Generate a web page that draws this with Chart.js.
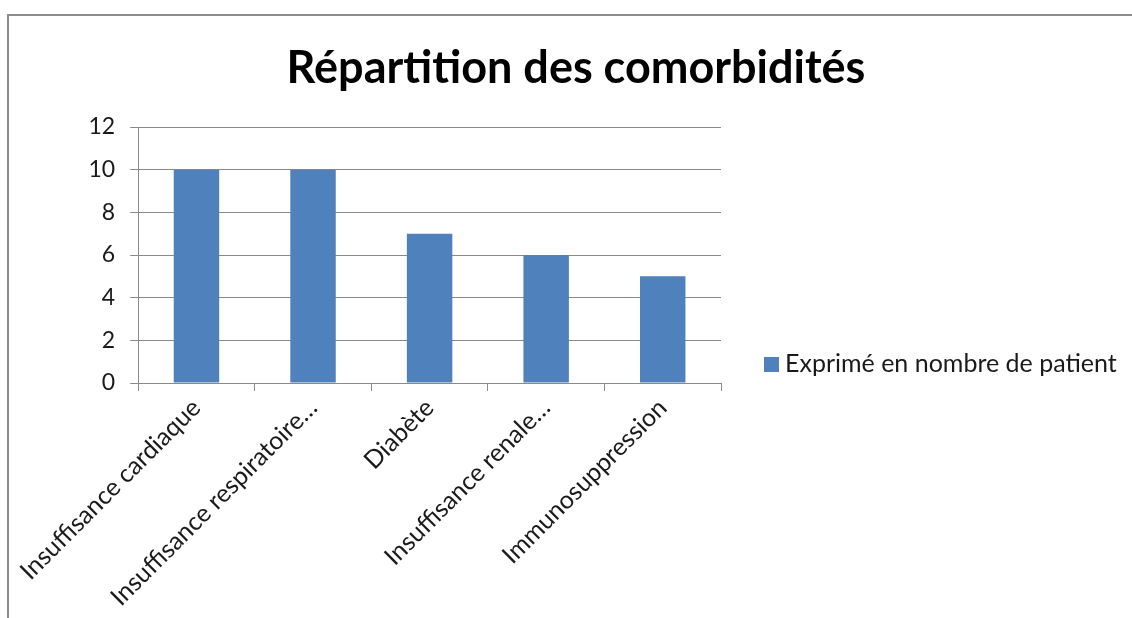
<!DOCTYPE html>
<html lang="fr">
<head>
<meta charset="utf-8">
<title>Répartition des comorbidités</title>
<script src="https://cdn.jsdelivr.net/npm/chart.js@4/dist/chart.umd.min.js"></script>
<style>
  html, body { margin:0; padding:0; background:#fff; overflow:hidden; }
  body { width:1132px; height:618px; position:relative; font-family:Lato, sans-serif; }
  /* cadre gris façon Excel */
  #frame { position:absolute; left:7px; top:14px; width:1200px; height:700px;
           border:2px solid #8c8c8c; box-sizing:border-box; }
  #chart { position:absolute; left:10px; top:0; }
  #legend { position:absolute; left:764px; top:347px; font:25px Lato, sans-serif; color:#1a1a1a;
            white-space:nowrap; }
  #legend span { display:inline-block; width:15px; height:15px; background:#4F81BD;
                 margin-right:6px; vertical-align:0px; }
</style>
</head>
<body>
<div id="frame"></div>
<canvas id="chart" width="1132" height="618"></canvas>
<div id="legend"><span></span>Exprimé en nombre de patient</div>
<script>
/* ---- données ---- */
const categories = ['Insuffisance cardiaque', 'Insuffisance respiratoire…', 'Diabète',
                    'Insuffisance renale…', 'Immunosuppression'];
const patients   = [10, 10, 7, 6, 5];
const yTicks     = [0, 2, 4, 6, 8, 10, 12];
const seriesName = 'Exprimé en nombre de patient';
const titre      = 'Répartition des comorbidités';

const grey = '#8a8a8a';

new Chart(document.getElementById('chart'), {
  type: 'bar',
  data: {
    labels: categories,
    datasets: [{ label: seriesName, data: patients, backgroundColor: '#4F81BD',
                 barPercentage: 0.39, categoryPercentage: 1 }]
  },
  options: {
    responsive: false,
    animation: false,
    plugins: {
      legend: { display: false },
      tooltip: { enabled: false },
      title: { display: true, text: titre, color: '#000',
               font: { family: 'Lato', size: 45, weight: 'bold' },
               padding: { top: 41, bottom: 32 } }
    },
    scales: {
      x: {
        grid: { drawOnChartArea: false, drawTicks: true, tickLength: 8, color: grey, offset: true },
        border: { color: grey },
        ticks: { color: '#1a1a1a', font: { family: 'Lato', size: 25 },
                 minRotation: 45, maxRotation: 45, autoSkip: false, padding: 2 },
        afterFit: s => { s.height = 618 - 383; }
      },
      y: {
        min: 0, max: 12,
        afterBuildTicks: s => { s.ticks = yTicks.map(v => ({ value: v })); },
        grid: { color: grey, tickLength: 8 },
        border: { color: grey },
        ticks: { color: '#1a1a1a', font: { family: 'Lato', size: 23 }, padding: 15 },
        afterFit: s => { s.width = 128; }
      },
      /* réserve la place de la légende à droite */
      yLegend: {
        position: 'right',
        grid: { display: false },
        border: { display: false },
        ticks: { display: false },
        afterFit: s => { s.width = 421; }
      }
    }
  }
});
</script>
</body>
</html>
